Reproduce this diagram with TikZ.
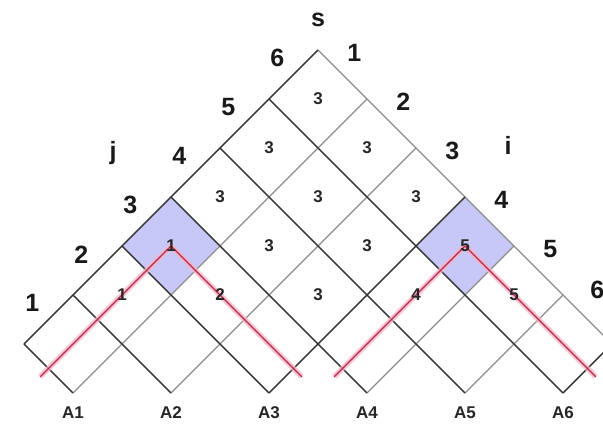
\documentclass[tikz,border=0pt]{standalone}
\usepackage{fontspec}
\setmainfont{Liberation Sans}
\definecolor{gridgray}{RGB}{140,140,140}
\definecolor{griddark}{RGB}{50,50,50}
\definecolor{cellblue}{RGB}{200,200,248}
\definecolor{pathred}{RGB}{185,40,75}
\definecolor{pathglow}{RGB}{246,180,196}

\begin{document}
\begin{tikzpicture}[
    thin grid/.style={gridgray, line width=1.2pt},
    thick grid/.style={griddark, line width=1.4pt},
    glow/.style={pathglow, line width=5.5pt, line join=round, opacity=0.75},
    redpath/.style={pathred, line width=1.4pt, line join=round},
    cellnum/.style={font=\fontsize{17}{19}\selectfont\bfseries, text=black!85},
    axisnum/.style={font=\fontsize{25}{27}\selectfont\bfseries, text=black!90},
    wordlab/.style={font=\fontsize{17}{19}\selectfont\bfseries, text=black!85}
]
\useasboundingbox (0,0) rectangle (603pt,-430pt);
\clip (0,0) rectangle (603pt,-430pt);

\begin{scope}[x={(-49pt,-49pt)}, y={(49pt,-49pt)}, shift={(318pt,-50pt)}]
    % shaded cells
    \fill[cellblue] (3,0) -- (4,0) -- (4,1) -- (3,1) -- cycle;
    \fill[cellblue] (0,3) -- (1,3) -- (1,4) -- (0,4) -- cycle;

    % chart grid
    \foreach \u in {0,...,6} {
        \pgfmathtruncatemacro\vmax{min(6,7-\u)}
        \draw[thin grid] (\u,0) -- (\u,\vmax);
    }
    \foreach \v in {0,...,6} {
        \pgfmathtruncatemacro\umax{min(6,7-\v)}
        \draw[thin grid] (0,\v) -- (\umax,\v);
    }
    \foreach \u in {1,...,6}
        \draw[thick grid] (\u,0) -- (\u,{7-\u});
    \draw[thick grid] (0,0) -- (6,0);
    \draw[thick grid] (0,3) -- (4,3);
    \draw[thick grid] (0,6) -- (1,6);

    % split paths
    \draw[glow] (6.17,0.5) -- (3.5,0.5) -- (3.5,3.17);
    \draw[glow] (3.17,3.5) -- (0.5,3.5) -- (0.5,6.17);
    \draw[redpath] (6.17,0.5) -- (3.5,0.5) -- (3.5,3.17);
    \draw[redpath] (3.17,3.5) -- (0.5,3.5) -- (0.5,6.17);

    % cell entries
    \foreach \a/\b/\t in {0/0/3, 1/0/3, 0/1/3, 2/0/3, 1/1/3, 0/2/3,
                          3/0/1, 2/1/3, 1/2/3, 0/3/5,
                          4/0/1, 3/1/2, 2/2/3, 1/3/4, 0/4/5}
        \node[cellnum] (c\a\b) at (\a+0.5,\b+0.5) {\t};

    % axis labels
    \foreach \k in {1,...,5}
        \node[axisnum] (i\k) at (-0.34,{\k-0.6}) {\k};
    \node[axisnum] (i6) at (-0.4,5.3) {6};
    \foreach \k in {1,...,6} {
        \node[axisnum] (j\k) at ({6.5-\k},-0.33) {\k};
        \node[wordlab] (A\k) at ({7.2-\k},{\k+0.2}) {A\k};
    }
    \node[axisnum] (s) at (-0.31,-0.31) {s};
    \node[axisnum] (j) at (3.14,-1.04) {j};
    \node[axisnum] (i) at (-0.97,2.91) {i};
\end{scope}
\end{tikzpicture}
\end{document}
